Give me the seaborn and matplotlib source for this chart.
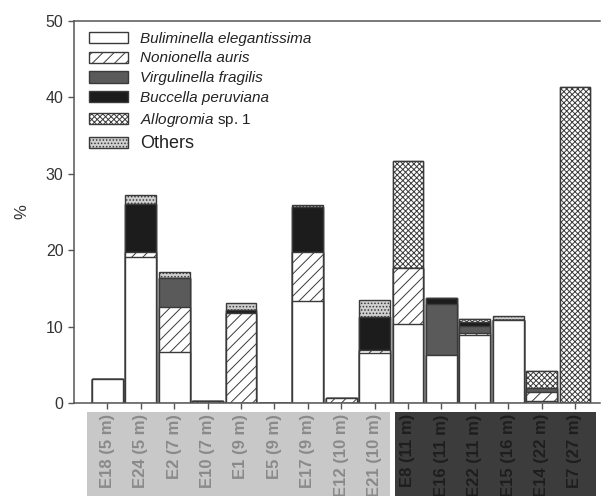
import matplotlib
matplotlib.use('Agg')
import matplotlib.pyplot as plt
import matplotlib.patches as mpatches
import matplotlib.transforms as mtransforms
import numpy as np
import pandas as pd
import seaborn as sns

# Sites (water depth) along the x axis
sites = ['E18 (5 m)', 'E24 (5 m)', 'E2 (7 m)', 'E10 (7 m)', 'E1 (9 m)', 'E5 (9 m)',
         'E17 (9 m)', 'E12 (10 m)', 'E21 (10 m)', 'E8 (11 m)', 'E16 (11 m)',
         'E22 (11 m)', 'E15 (16 m)', 'E14 (22 m)', 'E7 (27 m)']

# Relative abundance (%) of each taxon per site
buliminella = [3.1, 19.1, 6.7, 0.0, 0.0, 0.0, 13.4, 0.0, 6.6, 10.3, 6.3, 8.9, 10.9, 0.2, 0.0]
nonionella = [0.0, 0.6, 5.9, 0.3, 11.8, 0.0, 6.3, 0.7, 0.3, 7.4, 0.0, 0.3, 0.0, 1.3, 0.0]
virgulinella = [0.0, 0.0, 3.7, 0.0, 0.0, 0.0, 0.0, 0.0, 0.0, 0.0, 6.7, 0.9, 0.0, 0.5, 0.0]
buccella = [0.0, 6.3, 0.0, 0.0, 0.4, 0.0, 6.0, 0.0, 4.4, 0.0, 0.8, 0.5, 0.0, 0.0, 0.0]
allogromia = [0.0, 0.0, 0.0, 0.0, 0.0, 0.0, 0.0, 0.0, 0.0, 14.0, 0.0, 0.35, 0.0, 2.2, 41.4]
others = [0.0, 1.2, 0.8, 0.0, 0.9, 0.0, 0.2, 0.0, 2.2, 0.0, 0.0, 0.0, 0.5, 0.0, 0.0]

taxa = ['Buliminella elegantissima', 'Nonionella auris', 'Virgulinella fragilis',
        'Buccella peruviana', 'Allogromia sp. 1', 'Others']
legend_labels = ['Buliminella elegantissima', 'Nonionella auris', 'Virgulinella fragilis',
                 'Buccella peruviana', r'$\it{Allogromia}$ sp. 1', 'Others']

df = pd.DataFrame({'site': sites,
                   taxa[0]: buliminella, taxa[1]: nonionella, taxa[2]: virgulinella,
                   taxa[3]: buccella, taxa[4]: allogromia, taxa[5]: others})

# Fill style for each taxon (face colour, hatch)
styles = {
    taxa[0]: ('#ffffff', None),
    taxa[1]: ('#ffffff', '///'),
    taxa[2]: ('#5a5a5a', None),
    taxa[3]: ('#1c1c1c', None),
    taxa[4]: ('#ffffff', 'xxxxxx'),
    taxa[5]: ('#cfcfcf', '.....'),
}

sns.set_style('ticks')
plt.rcParams['font.family'] = ['Liberation Sans', 'DejaVu Sans']
plt.rcParams['mathtext.fontset'] = 'custom'
plt.rcParams['mathtext.it'] = 'Liberation Sans:italic'
plt.rcParams['mathtext.rm'] = 'Liberation Sans'
plt.rcParams['hatch.linewidth'] = 0.7

edge = '#3a3a3a'

fig = plt.figure(figsize=(6.01, 4.96), dpi=100)
ax = fig.add_axes([0.1231, 0.1875, 0.8752, 0.7702])

# Stacked bars: draw cumulative totals from top layer down, each covering the one below
cum = df[taxa].cumsum(axis=1)
for name in reversed(taxa):
    face, hatch = styles[name]
    sns.barplot(x=df['site'], y=cum[name], order=sites, color=face, saturation=1,
                width=0.92, edgecolor=edge, linewidth=1.0, hatch=hatch,
                errorbar=None, ax=ax)

ax.set_xlim(-1, 14.75)
ax.set_ylim(0, 50)
ax.set_yticks([0, 10, 20, 30, 40, 50])
ax.set_xlabel('')
ax.set_ylabel('%', fontsize=12, color='#333333', labelpad=12)

for side in ['left', 'bottom', 'top']:
    ax.spines[side].set_color('#555555')
    ax.spines[side].set_linewidth(1.1)
ax.spines['right'].set_visible(False)

ax.tick_params(axis='y', direction='out', length=4.5, width=1, color='#555555',
               labelsize=11.5, labelcolor='#333333', pad=3)
ax.tick_params(axis='x', direction='out', length=4, width=1, color='#555555',
               labelsize=12, pad=4)
ax.set_xticks(range(len(sites)))
ax.set_xticklabels(sites, rotation=90, fontweight='bold')
for i, lab in enumerate(ax.get_xticklabels()):
    lab.set_color('#8a8a8a' if i < 9 else '#1e1e1e')

# Grey boxes behind the site labels (shallow vs deeper sites)
trans = mtransforms.blended_transform_factory(ax.transData, fig.transFigure)
ax.add_patch(mpatches.Rectangle((-0.62, 0), 9.09, 0.1694, transform=trans,
                                facecolor='#c8c8c8', edgecolor='none',
                                clip_on=False, zorder=-5))
ax.add_patch(mpatches.Rectangle((8.61, 0), 6.03, 0.1694, transform=trans,
                                facecolor='#3c3c3c', edgecolor='none',
                                clip_on=False, zorder=-5))
for lab in ax.get_xticklabels():
    lab.set_zorder(5)

# Legend
handles = []
for name in taxa:
    face, hatch = styles[name]
    handles.append(mpatches.Patch(facecolor=face, edgecolor=edge, hatch=hatch,
                                  linewidth=1.0))
leg = ax.legend(handles, legend_labels, loc='upper left', bbox_to_anchor=(0.028, 0.972),
                frameon=False, fontsize=11, handlelength=2.6, handleheight=0.75,
                labelspacing=0.38, handletextpad=0.75, borderaxespad=0, borderpad=0)
for i, t in enumerate(leg.get_texts()):
    t.set_color('#222222')
    if i < 4:
        t.set_style('italic')
leg.get_texts()[5].set_fontsize(13)

fig.savefig('out.png', dpi=100)
